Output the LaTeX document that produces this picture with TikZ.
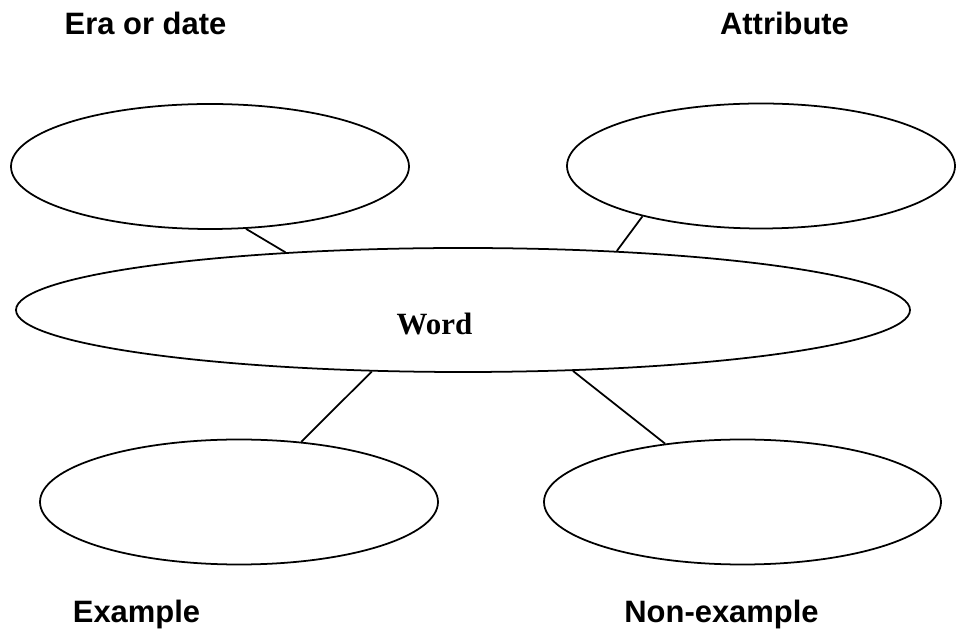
\documentclass[tikz,border=0pt]{standalone}
\usepackage{fontspec}
\setmainfont{Liberation Serif}
\newfontfamily\headfont{Liberation Sans}
\usetikzlibrary{shapes.geometric}

\begin{document}
\begin{tikzpicture}[
        bubble/.style={draw, ellipse, line width=1pt, inner sep=0pt, minimum height=2.5cm},
        link/.style={line width=1pt},
        heading/.style={anchor=base, font=\headfont\bfseries\fontsize{17.6}{21}\selectfont}
    ]
        \useasboundingbox (0,0) rectangle (19.12,12.62);
        \node[bubble, minimum width=7.96cm] (era) at (4.20,9.29) {};
        \node[bubble, minimum width=7.76cm] (attr) at (15.22,9.30) {};
        \node[bubble, minimum width=17.88cm, minimum height=2.48cm] (word) at (9.26,6.42) {};
        \node[bubble, minimum width=7.96cm] (ex) at (4.78,2.58) {};
        \node[bubble, minimum width=7.94cm] (nonex) at (14.85,2.58) {};
        \node[anchor=base, font=\bfseries\fontsize{17.6}{21}\selectfont] (wordtext) at (8.69,5.92) {Word};
        \draw[link] (era.-60.4) -- (word.162.6);
        \draw[link] (attr.203.9) -- (word.21.5);
        \draw[link] (word.214.4) -- (ex.44.1);
        \draw[link] (word.-29.4) -- (nonex.143.1);
        \node[heading] (eralabel) at (2.91,11.92) {Era or date};
        \node[heading] (attrlabel) at (15.69,11.92) {Attribute};
        \node[heading] (exlabel) at (2.73,0.16) {Example};
        \node[heading] (nonexlabel) at (14.43,0.16) {Non-example};
    \end{tikzpicture}
\end{document}
